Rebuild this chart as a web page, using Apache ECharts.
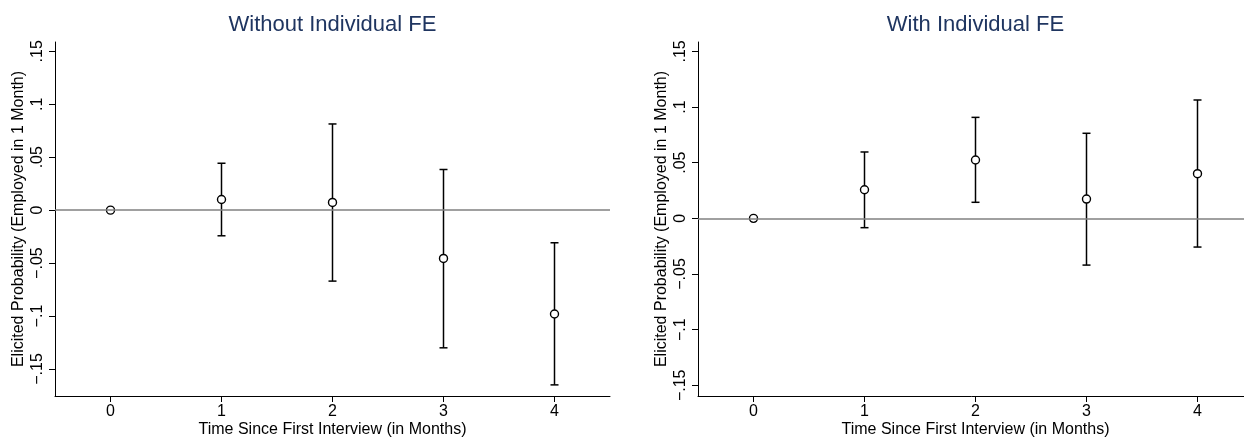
<!DOCTYPE html>
<html>
<head>
<meta charset="utf-8">
<script src="https://cdn.jsdelivr.net/npm/echarts@6/dist/echarts.min.js"></script>
<style>
  html, body { margin: 0; padding: 0; background: #fff; }
  #chart { width: 1244px; height: 438px; }
</style>
</head>
<body>
<div id="chart"></div>
<script>
// Months since the first interview
const months = [0, 1, 2, 3, 4];

// Panel 1: without individual fixed effects (point estimate and 95% CI)
const noFeEst  = [0, 0.0101, 0.0073, -0.0456, -0.0981];
const noFeLow  = [0, -0.0242, -0.0670, -0.1300, -0.1650];
const noFeHigh = [0, 0.0443, 0.0814, 0.0384, -0.0308];

// Panel 2: with individual fixed effects
const feEst  = [0, 0.0257, 0.0524, 0.0173, 0.0401];
const feLow  = [0, -0.0084, 0.0144, -0.0420, -0.0258];
const feHigh = [0, 0.0596, 0.0907, 0.0764, 0.1063];

// Axis ticks and their labels
const yTicks = [-0.15, -0.1, -0.05, 0, 0.05, 0.1, 0.15];
const yTickLabels = ['\u2212.15', '\u2212.1', '\u2212.05', '0', '.05', '.1', '.15'];
const xTicks = [0, 1, 2, 3, 4];

const panelTitles = ['Without Individual FE', 'With Individual FE'];
const xTitle = 'Time Since First Interview (in Months)';
const yTitle = 'Elicited Probability (Employed in 1 Month)';

const FONT = 'Liberation Sans, Arial, Helvetica, sans-serif';
const chart = echarts.init(document.getElementById('chart'), null, { renderer: 'canvas' });

const yLabelMap = {};
yTicks.forEach((v, i) => { yLabelMap[v.toFixed(2)] = yTickLabels[i]; });

// Plot areas of the two panels
const grids = [
  { left: 55, top: 42, width: 555, height: 354 },
  { left: 698, top: 42, width: 555, height: 354 }
];

function xAxisFor(idx) {
  return {
    type: 'value', gridIndex: idx, min: -0.5, max: 4.5,
    name: xTitle, nameLocation: 'middle', nameGap: 26, nameMoveOverlap: false,
    nameTextStyle: { fontFamily: FONT, fontSize: 16, color: '#000' },
    axisLine: { show: true, onZero: false, lineStyle: { color: '#000', width: 1 } },
    axisTick: { show: true, length: 6, customValues: xTicks, lineStyle: { color: '#000', width: 1 } },
    axisLabel: { show: true, customValues: xTicks, margin: 8, fontFamily: FONT, fontSize: 16, color: '#000' },
    splitLine: { show: false }
  };
}

function yAxisFor(idx, min, max) {
  return {
    type: 'value', gridIndex: idx, min: min, max: max,
    name: yTitle, nameLocation: 'middle', nameGap: 28, nameRotate: 90, nameMoveOverlap: false,
    nameTextStyle: { fontFamily: FONT, fontSize: 16, color: '#000' },
    axisLine: { show: true, onZero: false, lineStyle: { color: '#000', width: 1 } },
    axisTick: { show: true, length: 6, customValues: yTicks, lineStyle: { color: '#000', width: 1 } },
    axisLabel: {
      show: true, customValues: yTicks, rotate: 90, margin: 9,
      fontFamily: FONT, fontSize: 16, color: '#000',
      formatter: v => yLabelMap[Number(v).toFixed(2)]
    },
    splitLine: { show: false }
  };
}

function errorBars(idx, low, high) {
  return {
    type: 'custom', xAxisIndex: idx, yAxisIndex: idx, z: 2,
    data: months.map((m, i) => [m, low[i], high[i]]),
    renderItem: function (params, api) {
      const x = api.value(0), lo = api.value(1), hi = api.value(2);
      if (lo === hi) return null;
      const pLo = api.coord([x, lo]);
      const pHi = api.coord([x, hi]);
      const cap = 4;
      const style = { stroke: '#000', lineWidth: 1.5 };
      return {
        type: 'group',
        children: [
          { type: 'line', shape: { x1: pLo[0], y1: pLo[1], x2: pHi[0], y2: pHi[1] }, style },
          { type: 'line', shape: { x1: pHi[0] - cap, y1: pHi[1], x2: pHi[0] + cap, y2: pHi[1] }, style },
          { type: 'line', shape: { x1: pLo[0] - cap, y1: pLo[1], x2: pLo[0] + cap, y2: pLo[1] }, style }
        ]
      };
    }
  };
}

function points(idx, est) {
  return {
    type: 'scatter', xAxisIndex: idx, yAxisIndex: idx, z: 3,
    symbol: 'circle', symbolSize: 8,
    itemStyle: { color: '#fff', borderColor: '#000', borderWidth: 1.4, opacity: 1 },
    data: months.map((m, i) => [m, est[i]]),
    silent: true,
    markLine: {
      silent: true, symbol: 'none', z: 4,
      label: { show: false },
      lineStyle: { color: '#808080', width: 1.5, type: 'solid' },
      data: [{ yAxis: 0 }],
      animation: false
    }
  };
}

const option = {
  animation: false,
  backgroundColor: '#fff',
  // Panel titles, centred over each plot area
  graphic: panelTitles.map((t, i) => ({
    type: 'text',
    x: grids[i].left + grids[i].width / 2,
    y: 25,
    style: {
      text: t, fill: '#1f3560',
      font: '22px ' + FONT,
      textAlign: 'center', textVerticalAlign: 'middle'
    }
  })),
  grid: grids.map(g => Object.assign({ containLabel: false, outerBoundsMode: 'none' }, g)),
  xAxis: [xAxisFor(0), xAxisFor(1)],
  yAxis: [yAxisFor(0, -0.1755, 0.1588), yAxisFor(1, -0.1596, 0.1584)],
  series: [
    errorBars(0, noFeLow, noFeHigh),
    points(0, noFeEst),
    errorBars(1, feLow, feHigh),
    points(1, feEst)
  ]
};

chart.setOption(option);
</script>
</body>
</html>
